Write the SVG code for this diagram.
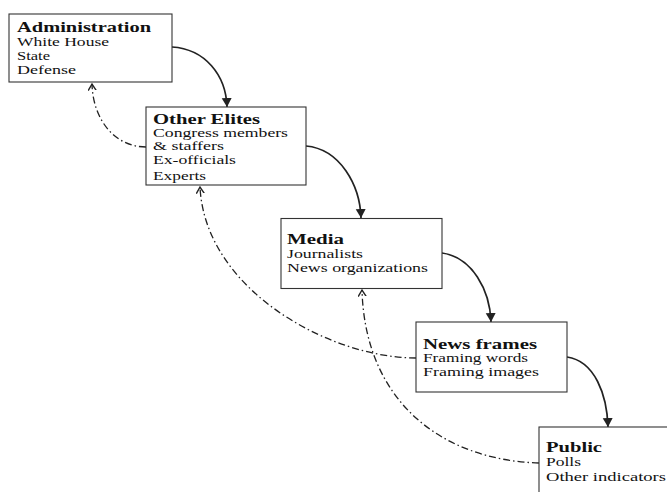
<svg xmlns="http://www.w3.org/2000/svg" width="667" height="492" viewBox="0 0 667 492">
<style>
.box{fill:#fff;stroke:#333;stroke-width:1.1}
.h{font-family:"Liberation Serif","Times New Roman",serif;font-weight:bold;font-size:15px;fill:#111}
.t{font-family:"Liberation Serif","Times New Roman",serif;font-size:12.3px;fill:#111}
.solid{fill:none;stroke:#222;stroke-width:1.7}
.dd{fill:none;stroke:#222;stroke-width:1.3;stroke-dasharray:7 3 1.5 3}
</style>
<defs>
<marker id="arr" markerUnits="userSpaceOnUse" markerWidth="11" markerHeight="11" refX="9" refY="5" orient="auto">
<path d="M0,0 L9,5 L0,10 z" fill="#222"/>
</marker>
<marker id="open" markerUnits="userSpaceOnUse" markerWidth="10" markerHeight="10" refX="6.5" refY="4" orient="auto">
<path d="M0,0 L6.5,4 L0,8" fill="none" stroke="#222" stroke-width="1.4"/>
</marker>
</defs>
<rect width="667" height="492" fill="#fff"/>
<g id="connectors">
<path class="solid" d="M172,47 C205,49 226,75 227,107" marker-end="url(#arr)"/>
<path class="solid" d="M306,146 C340,149 360,185 361,218" marker-end="url(#arr)"/>
<path class="solid" d="M442,253 C472,257 490,290 491,322" marker-end="url(#arr)"/>
<path class="solid" d="M567,357 C595,361 607,395 608,427" marker-end="url(#arr)"/>
<path class="dd" d="M146,147 C115,147 93,120 92,84" marker-end="url(#open)"/>
<path class="dd" d="M416,358 C330,358 205,290 200,187" marker-end="url(#open)"/>
<path class="dd" d="M539,463 C440,460 365,400 362,290" marker-end="url(#open)"/>
</g>
<g id="administration">
<rect class="box" x="9" y="14" width="163" height="68"/>
<text class="h" x="17" y="32" textLength="134" lengthAdjust="spacingAndGlyphs">Administration</text>
<text class="t" x="17" y="46" textLength="92" lengthAdjust="spacingAndGlyphs">White House</text>
<text class="t" x="17" y="60" textLength="33" lengthAdjust="spacingAndGlyphs">State</text>
<text class="t" x="17" y="73.5" textLength="59" lengthAdjust="spacingAndGlyphs">Defense</text>
</g>
<g id="other-elites">
<rect class="box" x="146" y="107" width="160" height="78"/>
<text class="h" x="153" y="123.5" textLength="107" lengthAdjust="spacingAndGlyphs">Other Elites</text>
<text class="t" x="153" y="136.5" textLength="135" lengthAdjust="spacingAndGlyphs">Congress members</text>
<text class="t" x="153" y="150" textLength="71" lengthAdjust="spacingAndGlyphs">&amp; staffers</text>
<text class="t" x="153" y="164" textLength="83" lengthAdjust="spacingAndGlyphs">Ex-officials</text>
<text class="t" x="153" y="179.5" textLength="53" lengthAdjust="spacingAndGlyphs">Experts</text>
</g>
<g id="media">
<rect class="box" x="281" y="218.5" width="161" height="70"/>
<text class="h" x="287" y="243.5" textLength="57" lengthAdjust="spacingAndGlyphs">Media</text>
<text class="t" x="287" y="258" textLength="76" lengthAdjust="spacingAndGlyphs">Journalists</text>
<text class="t" x="287" y="271.5" textLength="141" lengthAdjust="spacingAndGlyphs">News organizations</text>
</g>
<g id="news-frames">
<rect class="box" x="416" y="322" width="151" height="70"/>
<text class="h" x="423" y="348.5" textLength="114" lengthAdjust="spacingAndGlyphs">News frames</text>
<text class="t" x="423" y="362" textLength="105" lengthAdjust="spacingAndGlyphs">Framing words</text>
<text class="t" x="423" y="375.5" textLength="116" lengthAdjust="spacingAndGlyphs">Framing images</text>
</g>
<g id="public">
<rect class="box" x="539" y="427" width="200" height="100"/>
<text class="h" x="546" y="452" textLength="56" lengthAdjust="spacingAndGlyphs">Public</text>
<text class="t" x="546" y="466" textLength="35" lengthAdjust="spacingAndGlyphs">Polls</text>
<text class="t" x="546" y="480.5" textLength="120" lengthAdjust="spacingAndGlyphs">Other indicators</text>
</g>
</svg>
